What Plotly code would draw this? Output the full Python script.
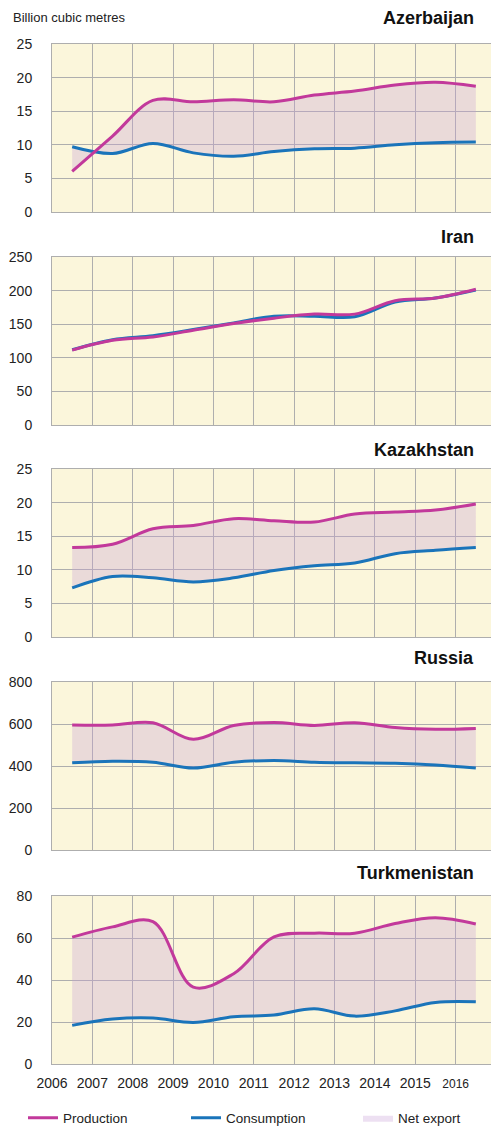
import plotly.graph_objects as go

years = [2006.5, 2007.5, 2008.5, 2009.5, 2010.5, 2011.5, 2012.5, 2013.5, 2014.5, 2015.5, 2016.5]
tick_years = [2006, 2007, 2008, 2009, 2010, 2011, 2012, 2013, 2014, 2015, 2016, 2017]
tick_labels = ["2006", "2007", "2008", "2009", "2010", "2011", "2012", "2013", "2014", "2015",
               "<span style='font-size:12px'>2016</span>", ""]

countries = ["Azerbaijan", "Iran", "Kazakhstan", "Russia", "Turkmenistan"]

azerbaijan_prod = [6.05, 11.3, 16.6, 16.4, 16.7, 16.4, 17.4, 18.0, 18.9, 19.3, 18.7]
azerbaijan_cons = [9.7, 8.7, 10.2, 8.8, 8.3, 9.0, 9.4, 9.5, 10.0, 10.3, 10.4]
iran_prod = [111.5, 126, 131, 141, 151, 159, 165, 165, 185, 189, 202]
iran_cons = [112, 127, 133, 142, 152, 162, 162, 161, 183, 189, 201]
kazakhstan_prod = [13.3, 13.8, 16.1, 16.6, 17.6, 17.3, 17.1, 18.3, 18.6, 18.9, 19.8]
kazakhstan_cons = [7.3, 9.0, 8.8, 8.2, 8.8, 9.9, 10.6, 11.0, 12.4, 12.9, 13.3]
russia_prod = [595, 595, 606, 527, 593, 607, 593, 606, 583, 575, 579]
russia_cons = [415, 423, 418, 390, 418, 426, 418, 415, 413, 405, 390]
turkmenistan_prod = [60.4, 65.3, 67.8, 36.6, 43.0, 60.5, 62.3, 62.3, 66.9, 69.7, 66.7]
turkmenistan_cons = [18.4, 21.4, 21.9, 19.8, 22.5, 23.3, 26.3, 22.8, 25.3, 29.3, 29.6]

production = [azerbaijan_prod, iran_prod, kazakhstan_prod, russia_prod, turkmenistan_prod]
consumption = [azerbaijan_cons, iran_cons, kazakhstan_cons, russia_cons, turkmenistan_cons]
y_max = [25, 250, 25, 800, 80]
y_dtick = [5, 50, 5, 200, 20]

PROD_COLOR = "#C2399B"
CONS_COLOR = "#1A74BA"
FILL_COLOR = "rgba(200,160,215,0.32)"
BG = "#FBF6DB"
GRID = "#AEAEAE"
FONT = "Liberation Sans, Arial, sans-serif"

H = 1127.0
W = 499.0
OFF = 8.0  # default page body margin


def fx(p):
    return (p - OFF) / W


def fy(p):
    return 1 - (p - OFF) / H


panels_px = [(44, 212), (257, 425), (469, 637), (682, 850), (896, 1064)]
title_px = [18, 237, 450, 658, 873]

fig = go.Figure()
layout = {}
annotations = []

for i, name in enumerate(countries):
    n = i + 1
    xa = "x" if n == 1 else f"x{n}"
    ya = "y" if n == 1 else f"y{n}"
    first = (i == 0)
    fig.add_trace(go.Scatter(x=years, y=consumption[i], xaxis=xa, yaxis=ya, mode="lines",
                             line=dict(width=0, shape="spline", smoothing=1, color=CONS_COLOR),
                             showlegend=False, hoverinfo="skip"))
    fig.add_trace(go.Scatter(x=years, y=production[i], xaxis=xa, yaxis=ya, mode="lines",
                             line=dict(width=0, shape="spline", smoothing=1, color=FILL_COLOR),
                             fill="tonexty", fillcolor=FILL_COLOR, name="Net export",
                             legend="legend3", showlegend=first, hoverinfo="skip"))
    fig.add_trace(go.Scatter(x=years, y=consumption[i], xaxis=xa, yaxis=ya, mode="lines",
                             line=dict(width=3, shape="spline", smoothing=1, color=CONS_COLOR),
                             name="Consumption", legend="legend2", showlegend=first))
    fig.add_trace(go.Scatter(x=years, y=production[i], xaxis=xa, yaxis=ya, mode="lines",
                             line=dict(width=3, shape="spline", smoothing=1, color=PROD_COLOR),
                             name="Production", legend="legend", showlegend=first))

    top, bot = panels_px[i]
    xkey = "xaxis" if n == 1 else f"xaxis{n}"
    ykey = "yaxis" if n == 1 else f"yaxis{n}"
    layout[xkey] = dict(domain=[fx(52), fx(496)], range=[2006, 2017], anchor=ya,
                        tickmode="array", tickvals=tick_years, ticktext=tick_labels,
                        showticklabels=(n == 5), showgrid=True, gridcolor=GRID, gridwidth=1,
                        showline=True, linecolor=GRID, linewidth=1, mirror=True,
                        zeroline=False, ticks="", fixedrange=True, automargin=False,
                        ticklabelstandoff=6,
                        tickfont=dict(family=FONT, size=14, color="#222"))
    layout[ykey] = dict(domain=[fy(bot), fy(top)], range=[0, y_max[i]], anchor=xa,
                        dtick=y_dtick[i], tick0=0, showgrid=True, gridcolor=GRID, gridwidth=1,
                        showline=True, linecolor=GRID, linewidth=1, mirror=True,
                        zeroline=False, ticks="", ticklabelstandoff=16, fixedrange=True,
                        automargin=False,
                        tickfont=dict(family=FONT, size=14, color="#222"))
    annotations.append(dict(text=f"<b>{name}</b>", x=fx(476), y=fy(title_px[i]),
                            xref="paper", yref="paper", xanchor="right", yanchor="middle",
                            showarrow=False, font=dict(family=FONT, size=18, color="#111")))

annotations.append(dict(text="Billion cubic metres", x=fx(11), y=fy(17), xref="paper", yref="paper",
                        xanchor="left", yanchor="middle", showarrow=False,
                        font=dict(family=FONT, size=13, color="#222")))

legend_common = dict(orientation="h", yanchor="middle", y=fy(1118), xanchor="left",
                     itemwidth=30, font=dict(family=FONT, size=13.5, color="#222"),
                     bgcolor="rgba(0,0,0,0)", borderwidth=0)

fig.update_layout(
    template="none",
    width=499, height=1127,
    margin=dict(l=0, r=0, t=0, b=0, pad=0, autoexpand=False),
    paper_bgcolor="white", plot_bgcolor=BG,
    annotations=annotations,
    showlegend=True,
    legend=dict(x=fx(23), **legend_common),
    legend2=dict(x=fx(186), **legend_common),
    legend3=dict(x=fx(358), **legend_common),
    hovermode="closest",
)
for k in layout:
    fig.layout[k] = layout[k]

fig.write_html("out.html")
